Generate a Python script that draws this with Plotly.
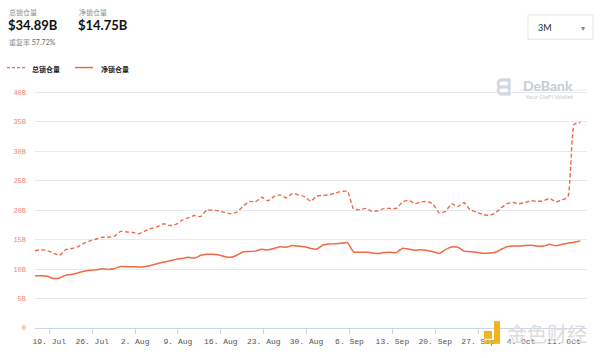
import plotly.graph_objects as go
import pandas as pd

# ---- data (daily) ----
start_date = "2021-07-16 16:00"
total_tvl = [13.1, 13.3, 13.1, 12.7, 12.3, 13.3, 13.5, 13.8, 14.4, 14.8,
             15.1, 15.4, 15.4, 15.6, 16.4, 16.3, 16.2, 16.0, 16.5, 16.9,
             17.2, 17.7, 17.4, 17.6, 18.3, 18.7, 19.1, 18.9, 20.0, 20.0,
             19.9, 19.6, 19.4, 19.7, 20.7, 21.5, 21.4, 22.2, 21.6, 22.3,
             22.6, 22.1, 22.8, 22.6, 22.3, 21.5, 22.4, 22.5, 22.6, 22.9,
             23.2, 23.2, 20.2, 20.1, 20.3, 19.8, 19.9, 20.3, 20.3, 20.3,
             21.4, 21.7, 21.1, 21.4, 21.5, 21.0, 19.5, 19.8, 21.1, 20.6,
             21.3, 20.1, 19.7, 19.3, 19.1, 19.4, 20.3, 21.1, 21.3, 21.1,
             21.3, 21.6, 21.5, 21.6, 22.0, 21.4, 21.7, 22.3, 34.6, 34.89]
net_tvl = [8.85, 8.85, 8.8, 8.4, 8.5, 8.95, 9.1, 9.35, 9.65, 9.8,
           9.9, 10.05, 9.95, 10.1, 10.45, 10.4, 10.4, 10.35, 10.45, 10.65,
           10.95, 11.2, 11.4, 11.65, 11.8, 12.0, 11.85, 12.3, 12.5, 12.5,
           12.4, 12.1, 12.0, 12.4, 12.95, 13.0, 13.05, 13.35, 13.25, 13.5,
           13.8, 13.7, 14.0, 13.9, 13.8, 13.5, 13.4, 14.1, 14.25, 14.3,
           14.4, 14.5, 12.9, 12.85, 12.9, 12.75, 12.65, 12.8, 12.85, 12.8,
           13.55, 13.4, 13.2, 13.3, 13.15, 12.95, 12.65, 13.3, 13.75, 13.7,
           13.05, 12.95, 12.85, 12.7, 12.7, 12.8, 13.3, 13.8, 13.9, 13.9,
           14.0, 14.05, 13.9, 13.9, 14.2, 13.95, 14.2, 14.4, 14.55, 14.75]
dates = pd.date_range(start_date, periods=len(total_tvl), freq="D")

y_tickvals = [0, 5, 10, 15, 20, 25, 30, 35, 40]
y_ticktext = ["0", "5B", "10B", "15B", "20B", "25B", "30B", "35B", "40B"]
series_names = ["总锁仓量", "净锁仓量"]
header_total = "$34.89B"
header_net = "$14.75B"
repeat_rate = "57.72%"

LINE = "#ef6a45"
MONO = "Liberation Mono, DejaVu Sans Mono, monospace"
SANS = "Lato, Noto Sans CJK SC, sans-serif"

fig = go.Figure()
fig.add_trace(go.Scatter(x=dates, y=total_tvl, mode="lines", name=series_names[0],
                         line=dict(color=LINE, width=1.4, dash="4px,2.5px",
                                   shape="spline", smoothing=0.4),
                         hoverinfo="skip"))
fig.add_trace(go.Scatter(x=dates, y=net_tvl, mode="lines", name=series_names[1],
                         line=dict(color=LINE, width=1.5, shape="spline", smoothing=0.4),
                         hoverinfo="skip"))

x_end = pd.Timestamp(start_date) + pd.Timedelta(days=90.1)
fig.update_layout(
    width=600, height=358,
    margin=dict(l=35, r=13, t=90, b=24),
    paper_bgcolor="white", plot_bgcolor="white",
    showlegend=False,
    xaxis=dict(range=[pd.Timestamp(start_date), x_end],
               tick0="2021-07-19", dtick=7 * 86400000, tickformat="%-d. %b",
               ticks="outside", ticklen=5, tickcolor="#ccd6eb",
               showline=True, linecolor="#ccd6eb", linewidth=1,
               showgrid=False, zeroline=False,
               tickfont=dict(family=MONO, size=8, color="#555555")),
    yaxis=dict(range=[0, 40.4], tickvals=y_tickvals, ticktext=y_ticktext,
               showgrid=True, gridcolor="#e6e9ef", gridwidth=1,
               zeroline=False, showline=False, ticks="",
               ticklabelstandoff=8,
               tickfont=dict(family=MONO, size=7, color="#ee8877")),
)


def px_x(x):
    return (x - 35) / 552


def px_y(y):
    return (334 - y) / 244


ann = [
    dict(x=7, y=4, text=series_names[0], font=dict(family=SANS, size=7, color="#8a8f99")),
    dict(x=6, y=13, text="<b>" + header_total + "</b>", font=dict(family=SANS, size=13, color="#111111")),
    dict(x=77, y=4, text=series_names[1], font=dict(family=SANS, size=7, color="#8a8f99")),
    dict(x=76, y=13, text="<b>" + header_net + "</b>", font=dict(family=SANS, size=13, color="#111111")),
    dict(x=7, y=35, text="重复率 <span style='color:#666'>" + repeat_rate + "</span>",
         font=dict(family=SANS, size=7, color="#8a8f99")),
    dict(x=30, y=62, text="<b>" + series_names[0] + "</b>", font=dict(family=SANS, size=7, color="#222")),
    dict(x=99, y=62, text="<b>" + series_names[1] + "</b>", font=dict(family=SANS, size=7, color="#222")),
    dict(x=536, y=18, text="3M", font=dict(family=SANS, size=9, color="#222")),
    dict(x=579, y=19, text="▾", font=dict(family=SANS, size=8, color="#888")),
    dict(x=521, y=75, text="<b>DeBank</b>", font=dict(family=SANS, size=14, color="#c9cdd4")),
    dict(x=523, y=91, text="Your DeFi Wallet", font=dict(family=SANS, size=6.5, color="#c9cdd4")),
    dict(x=494, y=72, text="<b>ᗺ</b>", font=dict(family=SANS, size=21, color="#d3d6dc")),
    dict(x=505, y=326, text="金色财经", font=dict(family=SANS, size=20, color="#dcdcdc")),
]

layout_ann = [dict(xref="paper", yref="paper", x=px_x(a["x"]), y=px_y(a["y"]),
                   xanchor="left", yanchor="top", showarrow=False,
                   text=a["text"], font=a["font"]) for a in ann]

shapes = [
    dict(type="line", xref="paper", yref="paper", x0=px_x(7), x1=px_x(25), y0=px_y(67), y1=px_y(67),
         line=dict(color=LINE, width=1.3, dash="3px,2px")),
    dict(type="line", xref="paper", yref="paper", x0=px_x(75), x1=px_x(93), y0=px_y(67), y1=px_y(67),
         line=dict(color=LINE, width=1.5)),
    dict(type="rect", xref="paper", yref="paper", x0=px_x(528), x1=px_x(593), y0=px_y(13), y1=px_y(38),
         line=dict(color="#e3e5ea", width=1), fillcolor="rgba(0,0,0,0)"),
    dict(type="line", xref="paper", yref="paper", x0=px_x(520), x1=px_x(587), y0=px_y(90), y1=px_y(90),
         line=dict(color="#e6e9ef", width=1)),
    dict(type="rect", xref="paper", yref="paper", x0=px_x(484), x1=px_x(492), y0=px_y(337), y1=px_y(345),
         line=dict(width=0), fillcolor="#f2b21c"),
    dict(type="rect", xref="paper", yref="paper", x0=px_x(494), x1=px_x(500), y0=px_y(327), y1=px_y(350),
         line=dict(width=0), fillcolor="#f2b21c"),
    dict(type="rect", xref="paper", yref="paper", x0=px_x(484), x1=px_x(500), y0=px_y(347), y1=px_y(350),
         line=dict(width=0), fillcolor="#f2b21c"),
]
fig.update_layout(annotations=layout_ann, shapes=shapes)
fig.write_html("out.html", config={"displayModeBar": False},
               post_script="document.body.style.margin='0';")
